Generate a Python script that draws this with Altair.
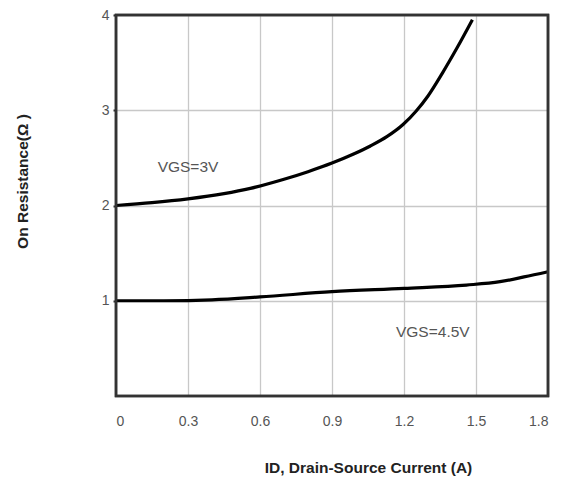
import altair as alt
import pandas as pd

# VGS = 3V curve
x_3v = [0.0, 0.15, 0.30, 0.45, 0.56, 0.70, 0.80, 0.90, 0.99, 1.06, 1.13, 1.196, 1.25, 1.30, 1.36, 1.42, 1.485]
r_3v = [2.00, 2.03, 2.07, 2.125, 2.18, 2.275, 2.355, 2.445, 2.54, 2.625, 2.725, 2.85, 2.99, 3.15, 3.39, 3.65, 3.95]

# VGS = 4.5V curve
x_45v = [0.0, 0.20, 0.40, 0.60, 0.90, 1.20, 1.46, 1.60, 1.70, 1.80]
r_45v = [1.00, 1.00, 1.01, 1.04, 1.095, 1.13, 1.165, 1.20, 1.25, 1.305]

series_names = ["VGS=3V", "VGS=4.5V"]
label_x = [0.30, 1.32]
label_y = [2.40, 0.67]

x_ticks = [0, 0.3, 0.6, 0.9, 1.2, 1.5, 1.8]
y_ticks = [1, 2, 3, 4]

df = pd.concat([
    pd.DataFrame({"x": x_3v, "r": r_3v, "s": series_names[0], "o": range(len(x_3v))}),
    pd.DataFrame({"x": x_45v, "r": r_45v, "s": series_names[1], "o": range(len(x_45v))}),
])
labels = pd.DataFrame({"x": label_x, "r": label_y, "t": series_names})

xs = alt.Scale(domain=[0, 1.8], nice=False, zero=False)
ys = alt.Scale(domain=[0, 4], nice=False)

lines = alt.Chart(df).mark_line(color="#000000", strokeWidth=3.2, interpolate="monotone").encode(
    x=alt.X("x:Q", scale=xs, axis=alt.Axis(
        values=x_ticks, title="ID, Drain-Source Current (A)", format="~g",
        grid=True, gridColor="#c8c8c8", gridWidth=1.3,
        domain=False, ticks=False, labelPadding=18, labelFontSize=14,
        labelColor="#555555", labelFont="Liberation Sans",
        titleFont="Liberation Sans", titleFontSize=15.5, titleFontWeight="bold",
        titleColor="#222222", titleX=252, titleY=71, titleBaseline="middle",
        titleAnchor="start", titleAlign="center")),
    y=alt.Y("r:Q", scale=ys, axis=alt.Axis(
        values=y_ticks, title="On Resistance(Ω )", format="d",
        grid=True, gridColor="#c8c8c8", gridWidth=1.3,
        domain=False, ticks=True, tickColor="#333333", tickSize=3, tickWidth=2,
        labelPadding=4, labelFontSize=14,
        labelColor="#555555", labelFont="Liberation Sans",
        titleFont="Liberation Sans", titleFontSize=15.5, titleFontWeight="bold",
        titleColor="#222222", titleX=-94, titleY=166, titleAngle=-90,
        titleBaseline="middle", titleAlign="center", titleAnchor="start")),
    detail="s:N",
    order="o:Q",
)

texts = alt.Chart(labels).mark_text(fontSize=15.5, color="#555555", font="Liberation Sans").encode(
    x=alt.X("x:Q", scale=xs),
    y=alt.Y("r:Q", scale=ys),
    text="t:N",
)

frame = alt.Chart(labels).mark_rect(fill=None, fillOpacity=0, stroke="#333333", strokeWidth=2.5).encode(
    x=alt.value(0), x2=alt.value(432), y=alt.value(0), y2=alt.value(381),
)

chart = alt.layer(lines, texts, frame).properties(
    width=432, height=381,
    background="#ffffff",
    autosize=alt.AutoSizeParams(type="none"),
    padding={"left": 116, "top": 15, "right": 26, "bottom": 90},
).configure_view(stroke=None)

chart.save("out.html", embed_options={"renderer": "svg", "actions": False})
